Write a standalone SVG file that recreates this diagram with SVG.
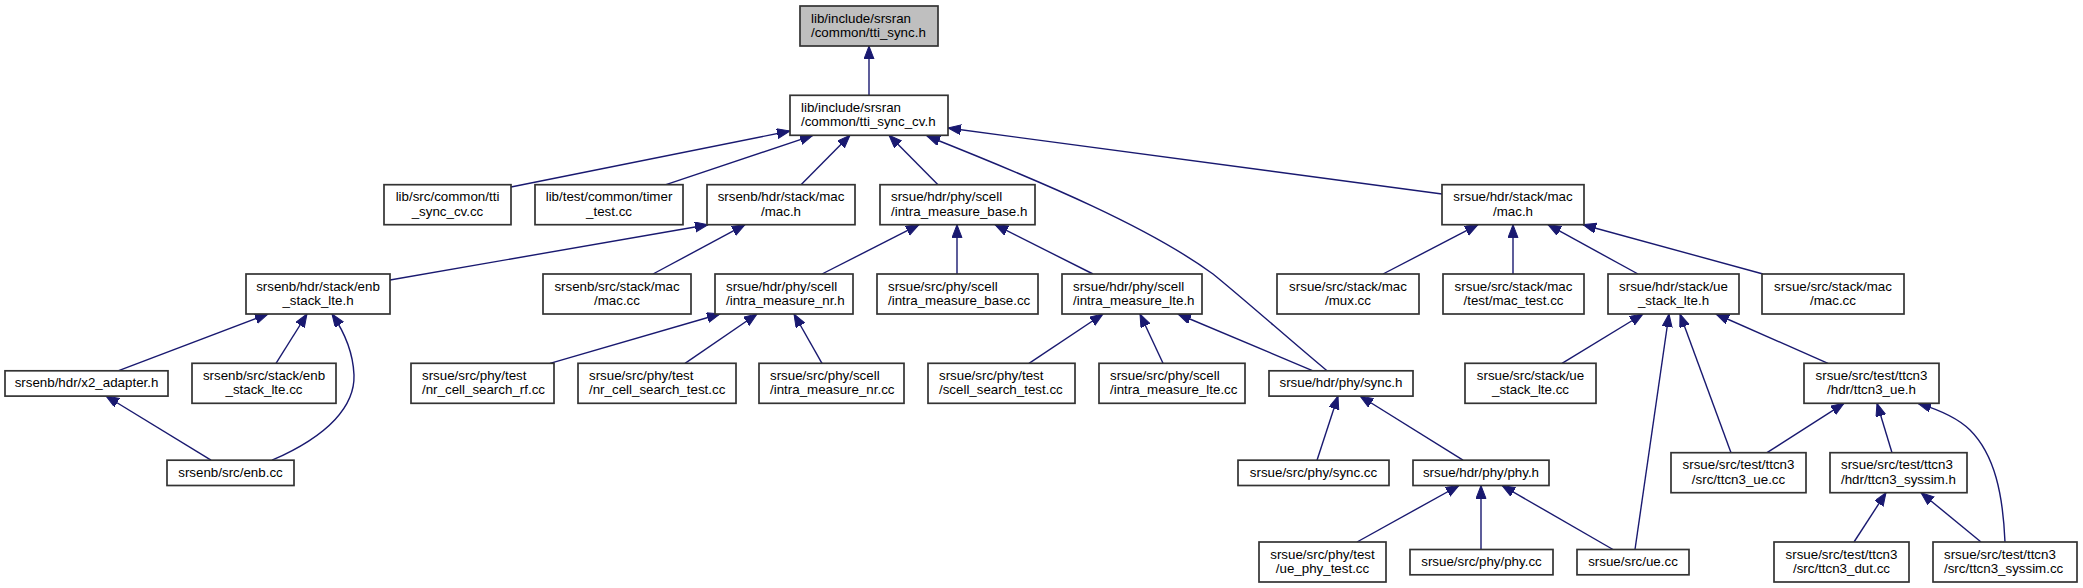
<svg xmlns="http://www.w3.org/2000/svg" width="2083" height="588" viewBox="0 0 2083 588">
<style>
rect{fill:#ffffff;stroke:#333333;stroke-width:1.7}
rect.root{fill:#bfbfbf}
text{font-family:"Liberation Sans",Arial,sans-serif;font-size:13.33px;fill:#000000}
.c{text-anchor:middle}
.l{text-anchor:start}
#edges path{fill:none;stroke:#191970;stroke-width:1.4;marker-end:url(#arr)}
</style>
<defs>
<marker id="arr" markerUnits="userSpaceOnUse" markerWidth="14" markerHeight="11" refX="13" refY="5" orient="auto">
<path d="M0,0 L13,5 L0,10 z" fill="#191970" stroke="#191970" stroke-width="1"/>
</marker>
</defs>
<rect x="0" y="0" width="2083" height="588" style="fill:#ffffff;stroke:none"/>
<g id="edges">
<path d="M869,95.3 L869,46"/>
<path d="M511,187 L790,131"/>
<path d="M666,184.7 L813,135.3"/>
<path d="M801,184.7 L850,135.3"/>
<path d="M938,184.7 L889,135.3"/>
<path d="M1327,370.8 C1290,340 1245,300 1213,274 C1150,228 1050,185 927,136"/>
<path d="M1442,194 L948,128"/>
<path d="M390,280 L708,224.7"/>
<path d="M653,274 L745,224.7"/>
<path d="M822,274 L919,224.7"/>
<path d="M957,274 L957,224.7"/>
<path d="M1093,274 L995,224.7"/>
<path d="M1383,274 L1478,224.7"/>
<path d="M1513,274 L1513,224.7"/>
<path d="M1638,274 L1548,224.7"/>
<path d="M1763,274 L1583,224.7"/>
<path d="M118,370.8 L268,314"/>
<path d="M276,363.3 L307,314"/>
<path d="M272,460.2 C330,435 355,405 354,375 C353,350 343,330 332,314"/>
<path d="M211,460.2 L106,396"/>
<path d="M550,363.3 L720,314"/>
<path d="M685,363.3 L757,314"/>
<path d="M822,363.3 L794,314"/>
<path d="M1029,363.3 L1103,314"/>
<path d="M1163,363.3 L1140,314"/>
<path d="M1313,370.8 L1178,314"/>
<path d="M1562,363.3 L1643,314"/>
<path d="M1635,549.5 L1669,314"/>
<path d="M1731,452.7 L1680,314"/>
<path d="M1828,363.3 L1716,314"/>
<path d="M1317,460.2 L1338,396"/>
<path d="M1463,460.2 L1360,396"/>
<path d="M1767,452.7 L1844,403.3"/>
<path d="M1892,452.7 L1877,403.3"/>
<path d="M2005,542 C2003,495 1995,455 1970,430 C1958,418 1940,410 1918,403.3"/>
<path d="M1357,542 L1459,485.5"/>
<path d="M1481,549.5 L1481,485.5"/>
<path d="M1613,549.5 L1502,485.5"/>
<path d="M1854,542 L1886,492.7"/>
<path d="M1981,542 L1921,492.7"/>
</g>
<g id="n1"><rect class="root" x="800" y="6" width="138" height="40"/><text class="l" x="811" y="22.5">lib/include/srsran</text><text class="l" x="811" y="37">/common/tti_sync.h</text></g>
<g id="n2"><rect x="790" y="95.3" width="158" height="40"/><text class="l" x="801" y="111.8">lib/include/srsran</text><text class="l" x="801" y="126.3">/common/tti_sync_cv.h</text></g>
<g id="n3"><rect x="384" y="184.7" width="127" height="40"/><text class="c" x="447.5" y="201.2">lib/src/common/tti</text><text class="c" x="447.5" y="215.7">_sync_cv.cc</text></g>
<g id="n4"><rect x="535" y="184.7" width="148" height="40"/><text class="c" x="609" y="201.2">lib/test/common/timer</text><text class="c" x="609" y="215.7">_test.cc</text></g>
<g id="n5"><rect x="707" y="184.7" width="148" height="40"/><text class="c" x="781" y="201.2">srsenb/hdr/stack/mac</text><text class="c" x="781" y="215.7">/mac.h</text></g>
<g id="n6"><rect x="880" y="184.7" width="155" height="40"/><text class="l" x="891" y="201.2">srsue/hdr/phy/scell</text><text class="l" x="891" y="215.7">/intra_measure_base.h</text></g>
<g id="n7"><rect x="1442" y="184.7" width="142" height="40"/><text class="c" x="1513" y="201.2">srsue/hdr/stack/mac</text><text class="c" x="1513" y="215.7">/mac.h</text></g>
<g id="n8"><rect x="246" y="274" width="144" height="40"/><text class="c" x="318" y="290.5">srsenb/hdr/stack/enb</text><text class="c" x="318" y="305">_stack_lte.h</text></g>
<g id="n9"><rect x="543" y="274" width="148" height="40"/><text class="c" x="617" y="290.5">srsenb/src/stack/mac</text><text class="c" x="617" y="305">/mac.cc</text></g>
<g id="n10"><rect x="715" y="274" width="138" height="40"/><text class="l" x="726" y="290.5">srsue/hdr/phy/scell</text><text class="l" x="726" y="305">/intra_measure_nr.h</text></g>
<g id="n11"><rect x="877" y="274" width="161" height="40"/><text class="l" x="888" y="290.5">srsue/src/phy/scell</text><text class="l" x="888" y="305">/intra_measure_base.cc</text></g>
<g id="n12"><rect x="1062" y="274" width="140" height="40"/><text class="l" x="1073" y="290.5">srsue/hdr/phy/scell</text><text class="l" x="1073" y="305">/intra_measure_lte.h</text></g>
<g id="n13"><rect x="1277" y="274" width="142" height="40"/><text class="c" x="1348" y="290.5">srsue/src/stack/mac</text><text class="c" x="1348" y="305">/mux.cc</text></g>
<g id="n14"><rect x="1443" y="274" width="141" height="40"/><text class="c" x="1513.5" y="290.5">srsue/src/stack/mac</text><text class="c" x="1513.5" y="305">/test/mac_test.cc</text></g>
<g id="n15"><rect x="1608" y="274" width="131" height="40"/><text class="c" x="1673.5" y="290.5">srsue/hdr/stack/ue</text><text class="c" x="1673.5" y="305">_stack_lte.h</text></g>
<g id="n16"><rect x="1762" y="274" width="142" height="40"/><text class="c" x="1833" y="290.5">srsue/src/stack/mac</text><text class="c" x="1833" y="305">/mac.cc</text></g>
<g id="n17"><rect x="5" y="370.8" width="163" height="25.3"/><text class="c" x="86.5" y="387.3">srsenb/hdr/x2_adapter.h</text></g>
<g id="n18"><rect x="192" y="363.3" width="144" height="40"/><text class="c" x="264" y="379.8">srsenb/src/stack/enb</text><text class="c" x="264" y="394.3">_stack_lte.cc</text></g>
<g id="n19"><rect x="411" y="363.3" width="143" height="40"/><text class="l" x="422" y="379.8">srsue/src/phy/test</text><text class="l" x="422" y="394.3">/nr_cell_search_rf.cc</text></g>
<g id="n20"><rect x="578" y="363.3" width="158" height="40"/><text class="l" x="589" y="379.8">srsue/src/phy/test</text><text class="l" x="589" y="394.3">/nr_cell_search_test.cc</text></g>
<g id="n21"><rect x="759" y="363.3" width="145" height="40"/><text class="l" x="770" y="379.8">srsue/src/phy/scell</text><text class="l" x="770" y="394.3">/intra_measure_nr.cc</text></g>
<g id="n22"><rect x="928" y="363.3" width="147" height="40"/><text class="l" x="939" y="379.8">srsue/src/phy/test</text><text class="l" x="939" y="394.3">/scell_search_test.cc</text></g>
<g id="n23"><rect x="1099" y="363.3" width="146" height="40"/><text class="l" x="1110" y="379.8">srsue/src/phy/scell</text><text class="l" x="1110" y="394.3">/intra_measure_lte.cc</text></g>
<g id="n24"><rect x="1269" y="370.8" width="144" height="25.3"/><text class="c" x="1341" y="387.3">srsue/hdr/phy/sync.h</text></g>
<g id="n25"><rect x="1465" y="363.3" width="131" height="40"/><text class="c" x="1530.5" y="379.8">srsue/src/stack/ue</text><text class="c" x="1530.5" y="394.3">_stack_lte.cc</text></g>
<g id="n26"><rect x="1804" y="363.3" width="135" height="40"/><text class="c" x="1871.5" y="379.8">srsue/src/test/ttcn3</text><text class="c" x="1871.5" y="394.3">/hdr/ttcn3_ue.h</text></g>
<g id="n27"><rect x="167" y="460.2" width="127" height="25.3"/><text class="c" x="230.5" y="476.7">srsenb/src/enb.cc</text></g>
<g id="n28"><rect x="1238" y="460.2" width="151" height="25.3"/><text class="c" x="1313.5" y="476.7">srsue/src/phy/sync.cc</text></g>
<g id="n29"><rect x="1413" y="460.2" width="136" height="25.3"/><text class="c" x="1481" y="476.7">srsue/hdr/phy/phy.h</text></g>
<g id="n30"><rect x="1671" y="452.7" width="135" height="40"/><text class="c" x="1738.5" y="469.2">srsue/src/test/ttcn3</text><text class="c" x="1738.5" y="483.7">/src/ttcn3_ue.cc</text></g>
<g id="n31"><rect x="1830" y="452.7" width="137" height="40"/><text class="l" x="1841" y="469.2">srsue/src/test/ttcn3</text><text class="l" x="1841" y="483.7">/hdr/ttcn3_syssim.h</text></g>
<g id="n32"><rect x="1259" y="542" width="127" height="40"/><text class="c" x="1322.5" y="558.5">srsue/src/phy/test</text><text class="c" x="1322.5" y="573">/ue_phy_test.cc</text></g>
<g id="n33"><rect x="1410" y="549.5" width="143" height="25.3"/><text class="c" x="1481.5" y="566">srsue/src/phy/phy.cc</text></g>
<g id="n34"><rect x="1577" y="549.5" width="112" height="25.3"/><text class="c" x="1633" y="566">srsue/src/ue.cc</text></g>
<g id="n35"><rect x="1774" y="542" width="135" height="40"/><text class="c" x="1841.5" y="558.5">srsue/src/test/ttcn3</text><text class="c" x="1841.5" y="573">/src/ttcn3_dut.cc</text></g>
<g id="n36"><rect x="1933" y="542" width="144" height="40"/><text class="l" x="1944" y="558.5">srsue/src/test/ttcn3</text><text class="l" x="1944" y="573">/src/ttcn3_syssim.cc</text></g>
</svg>
